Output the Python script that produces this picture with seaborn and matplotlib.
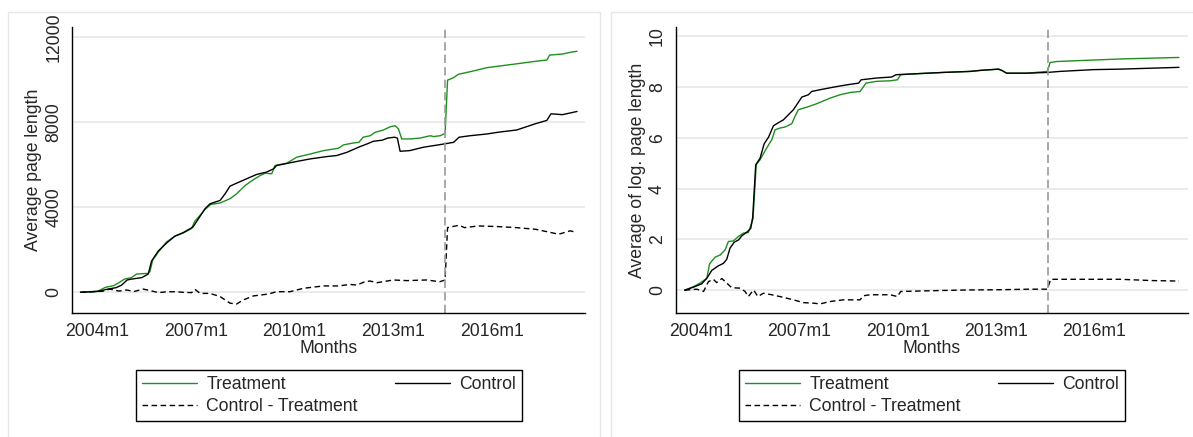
import numpy as np
import pandas as pd
import matplotlib
matplotlib.use("Agg")
import matplotlib.pyplot as plt
import seaborn as sns
from matplotlib.lines import Line2D
from matplotlib.patches import Rectangle

# months counted from 2004m1 (t=0)
tick_pos = [0, 36, 72, 108, 144]
tick_labels = ["2004m1", "2007m1", "2010m1", "2013m1", "2016m1"]
break_month = 127  # 2014m8

# ---- left panel: average page length ----
len_treat_t = [-6, 0, 3, 6, 8, 10, 12.5, 14.5, 18.5, 19.3, 20.3, 22.4, 25.4, 28.4, 31.5, 34.5,
               35.7, 37.6, 39.4, 41.5, 44.9, 48.5, 50.9, 54, 57, 59.5, 61.3, 63.7, 64.9, 69.2,
               72.8, 77.7, 82.6, 88, 89.9, 93.5, 95.5, 97, 99.6, 101.4, 104.4, 106.9, 108.7,
               109.9, 111.1, 114.2, 117.8, 121.5, 122.7, 125.1, 126.9, 127.8, 130, 131.8,
               136.1, 142.2, 147, 153, 160, 164, 165, 169.7, 172.5, 175]
len_treat = [0, 30, 230, 310, 450, 620, 690, 860, 890, 970, 1510, 1900, 2370, 2640, 2790, 3000,
             3350, 3620, 3900, 4130, 4200, 4400, 4630, 5020, 5290, 5490, 5600, 5570, 5960, 6070,
             6350, 6500, 6660, 6770, 6930, 7020, 7050, 7290, 7360, 7520, 7630, 7780, 7830,
             7680, 7210, 7210, 7250, 7360, 7320, 7360, 7470, 9970, 10090, 10250,
             10370, 10560, 10640, 10740, 10860, 10920, 11150, 11200, 11280, 11330]

len_ctrl_t = [-6, 1, 3.5, 7, 9, 11, 12.5, 16.3, 18.7, 19.9, 22.4, 25.4, 28.4, 31.5, 35, 37,
              39.4, 41.2, 44.9, 46.7, 48.5, 50.9, 54.6, 58.2, 61.8, 64.3, 65.5, 71.6, 77.7,
              83.8, 87.4, 91.1, 95.9, 98, 100.8, 104, 106, 108.5, 109.5, 110.5, 114, 119, 125,
              130, 132, 136, 142, 146, 153, 160, 164, 165.5, 169.7, 175]
len_ctrl = [0, 60, 140, 220, 340, 580, 620, 690, 860, 1470, 1950, 2320, 2640, 2810, 3070, 3460,
            3930, 4160, 4320, 4630, 4990, 5130, 5340, 5540, 5650, 5800, 5960, 6120, 6270,
            6380, 6430, 6580, 6850, 6950, 7100, 7150, 7250, 7290, 7250, 6630, 6660, 6820, 6940,
            7050, 7290, 7360, 7440, 7520, 7630, 7930, 8080, 8390, 8350, 8500]

len_diff_t = [-6, 2, 4.7, 8, 10.8, 13.5, 16.9, 19.5, 22.4, 25, 28.4, 31.5, 34.5, 35.7, 37.6,
              41.2, 44.9, 48.5, 50.9, 53.3, 57, 62.5, 65.5, 70.4, 75.3, 82.6, 88, 92.3, 94.7,
              97.7, 99.6, 102, 108, 113, 120, 125, 126.9, 127.8, 130, 132, 134, 139, 146, 153,
              160, 164, 168.3, 172.5, 174.6]
len_diff = [0, 50, 150, 60, 110, 40, 150, 80, -15, 20, 30, 0, -15, 140, -50,
            -50, -200, -510, -550, -360, -170, -80, 30, 30, 190, 300, 300, 370, 340,
            500, 530, 450, 580, 550, 580, 500, 580, 3040, 3100, 3150, 3040, 3120, 3090, 3040,
            2960, 2850, 2730, 2890, 2820]

# ---- right panel: average of log page length ----
log_treat_t = [-6, -2.8, -0.4, 2.1, 3.1, 5.1, 7, 8.8, 10, 11.8, 13.7, 15.5, 17.3, 19, 20.2,
               21.6, 22.8, 24, 25.9, 27.1, 28.9, 30.8, 33.2, 34.4, 35.6, 38.7, 42.4, 47.3,
               50.9, 54.6, 58.2, 60.4, 64.3, 69.2, 71.9, 73.1, 79, 88.7, 98.5, 102.2, 108.9,
               110.1, 111.9, 119.2, 126.8, 127.8, 130.2, 153.4, 175]
log_treat = [0, 0.14, 0.28, 0.47, 1.04, 1.30, 1.39, 1.59, 1.92, 1.94, 2.12, 2.25, 2.27, 2.80, 4.95,
             5.14, 5.37, 5.60, 5.93, 6.32, 6.39, 6.43, 6.56, 6.85, 7.11, 7.21, 7.35, 7.57,
             7.70, 7.79, 7.83, 8.16, 8.23, 8.25, 8.29, 8.49, 8.53, 8.58, 8.62, 8.66, 8.71,
             8.66, 8.55, 8.55, 8.62, 8.97, 9.01, 9.11, 9.17]

log_ctrl_t = [-6, -2.8, 0.2, 2.1, 3.9, 6.3, 8.2, 9.4, 10.6, 12.1, 13.7, 14.9, 17, 18.2, 18.9, 20,
              21.6, 23.1, 24.7, 26.5, 28, 30.1, 31.4, 33.8, 36.9, 39.3, 40.5, 43.6, 48.5, 53.3,
              57.7, 58.6, 64.3, 69.8, 71.4, 79, 88.7, 98.5, 102.2, 108.9, 110.1, 111.9, 119.2,
              126.8, 131.4, 143.6, 153.4, 175]
log_ctrl = [0, 0.12, 0.25, 0.47, 0.78, 0.96, 1.06, 1.22, 1.66, 1.89, 1.98, 2.14, 2.31, 2.44, 2.88, 4.94,
            5.20, 5.77, 6.03, 6.48, 6.58, 6.71, 6.85, 7.11, 7.61, 7.70, 7.83, 7.90, 8.00, 8.09,
            8.16, 8.29, 8.36, 8.40, 8.49, 8.53, 8.58, 8.62, 8.66, 8.71, 8.66, 8.55, 8.55,
            8.58, 8.62, 8.69, 8.71, 8.78]

log_diff_t = [-6, -1.6, 0.9, 2.7, 4.5, 5.7, 7.6, 9.4, 11.2, 14.3, 16.1, 17.3, 19.2, 20.8, 22.8,
              25.9, 30.1, 33.8, 37.5, 41.1, 43.6, 47, 52, 58.2, 59.4, 61.9, 69.2, 71.9, 73.1,
              88.7, 98.5, 110, 120, 126.8, 128, 153.4, 165, 175]
log_diff = [0, 0.04, -0.05, 0.34, 0.43, 0.30, 0.46, 0.28, 0.10, 0.08, -0.05, -0.25, 0.01, -0.25, -0.12,
            -0.18, -0.28, -0.38, -0.49, -0.51, -0.54, -0.45, -0.38, -0.38, -0.22, -0.18, -0.18, -0.25, -0.05,
            -0.01, 0.01, 0.02, 0.04, 0.04, 0.43, 0.43, 0.38, 0.36]

sns.set_theme(style="white")
plt.rcParams['font.family'] = ['Liberation Sans', 'DejaVu Sans']
FS = 12.7
GREEN = "#1f8f1f"

fig = plt.figure(figsize=(11.93, 4.37), dpi=100)

# light panel frames
for x0, x1 in [(8, 600), (611, 1200)]:
    fig.patches.append(Rectangle((x0 / 1193, -0.01), (x1 - x0) / 1193, (437 - 12) / 437 + 0.01,
                                 transform=fig.transFigure, fill=False,
                                 edgecolor="#e6e6e6", lw=1.0))

ax1 = fig.add_axes([72 / 1193, 1 - 313.3 / 437, 513 / 1193, 286.3 / 437])
ax2 = fig.add_axes([675.7 / 1193, 1 - 313.3 / 437, 512.3 / 1193, 286.3 / 437])


def draw_panel(ax, tt, tv, ct, cv, dt, dv, ylim, yticks, ylabel, xlim):
    ax.set_axisbelow(True)
    ax.grid(axis='y', color="#e8e8e8", lw=1.2)
    ax.grid(axis='x', visible=False)
    sns.lineplot(x=tt, y=tv, ax=ax, color=GREEN, lw=1.0)
    sns.lineplot(x=ct, y=cv, ax=ax, color="black", lw=1.0)
    sns.lineplot(x=dt, y=dv, ax=ax, color="black", lw=1.0)
    ax.lines[-1].set_dashes([4, 2.5])
    vl = ax.axvline(break_month, color="#999999", lw=1.2)
    vl.set_dashes([5, 2.5])
    ax.set_xlim(*xlim)
    ax.set_ylim(*ylim)
    ax.set_yticks(yticks)
    ax.set_xticks(tick_pos)
    ax.set_xticklabels(tick_labels)
    ax.tick_params(axis='both', direction='out', length=5, width=1, color='black',
                   labelsize=FS, pad=2)
    for lab in ax.get_yticklabels():
        lab.set_rotation(90)
        lab.set_va('center')
    for s in ['top', 'right']:
        ax.spines[s].set_visible(False)
    for s in ['left', 'bottom']:
        ax.spines[s].set_color('black')
        ax.spines[s].set_linewidth(1.0)
    ax.set_xlabel("Months", fontsize=FS, labelpad=0)
    ax.set_ylabel(ylabel, fontsize=FS, labelpad=2)


draw_panel(ax1, len_treat_t, len_treat, len_ctrl_t, len_ctrl, len_diff_t, len_diff,
           (-986, 12470), [0, 4000, 8000, 12000], "Average page length", (-9.1, 177.9))
draw_panel(ax2, log_treat_t, log_treat, log_ctrl_t, log_ctrl, log_diff_t, log_diff,
           (-0.91, 10.37), [0, 2, 4, 6, 8, 10], "Average of log. page length", (-9.3, 178.3))

handles = [Line2D([], [], color=GREEN, lw=1.0),
           Line2D([], [], color="black", lw=1.0, dashes=[4, 2.5]),
           Line2D([], [], color="black", lw=1.0)]
labels = ["Treatment", "Control - Treatment", "Control"]

for lx in [135.9, 738.8]:
    leg = fig.legend(handles, labels, ncol=2, loc='center', mode='expand',
                     bbox_to_anchor=(lx / 1193, 1 - 423 / 437, 386.5 / 1193, 55 / 437),
                     fontsize=FS, frameon=True, fancybox=False, edgecolor='black',
                     framealpha=1, handlelength=3.1, handletextpad=0.55,
                     labelspacing=0.3, borderpad=0.35, borderaxespad=0)
    leg.get_frame().set_linewidth(1.0)

plt.savefig("out.png", dpi=100)
